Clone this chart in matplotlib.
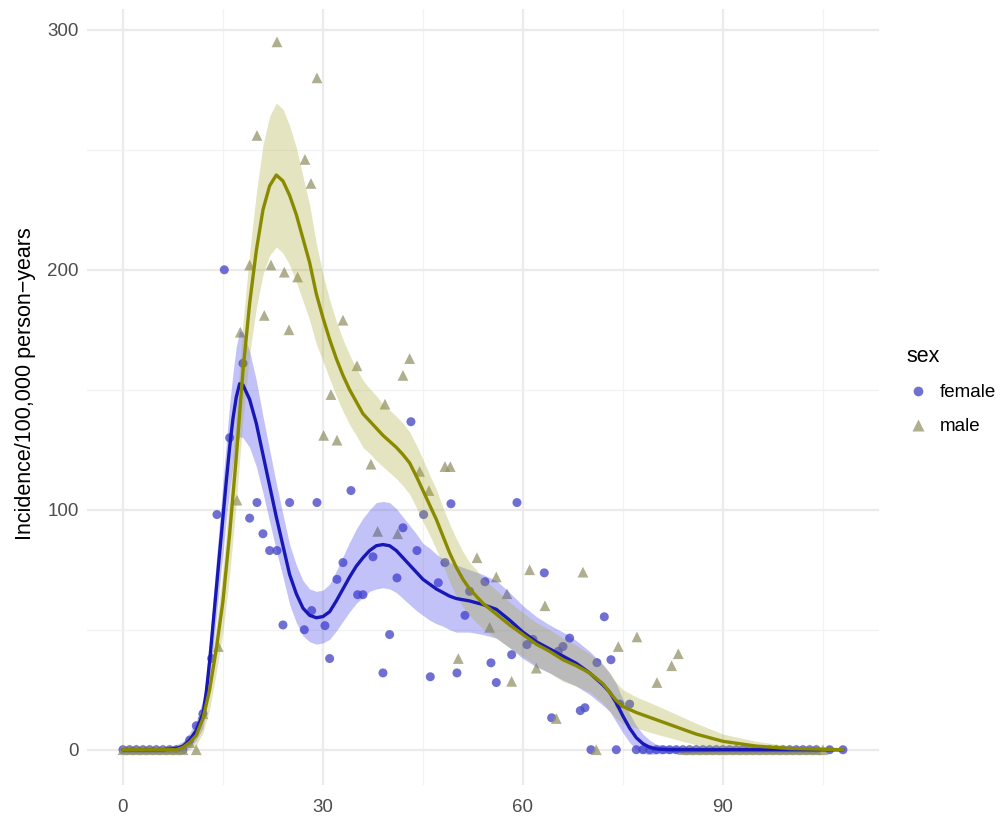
import numpy as np
import matplotlib
matplotlib.use('Agg')
import matplotlib.pyplot as plt
from matplotlib.lines import Line2D

plt.rcParams['font.family'] = ['Liberation Sans', 'DejaVu Sans']

# points (age, incidence)
female_age = [0, 1, 2, 3, 4, 5, 6, 7, 8, 9, 10, 11, 12, 13.3, 14.1, 15.2, 16, 18, 19, 20.1,
              21, 22, 23.1, 24, 25, 27.2, 28.3, 29.1, 30.3, 31, 32.1, 33, 34.2, 35.2, 36,
              37.5, 39, 40, 41.1, 42, 43.2, 44.1, 45.1, 46.1, 47.3, 48.3, 49.2, 50.1, 51.3,
              52, 54.3, 55.2, 56, 58.3, 59.1, 60.6, 61.5, 63.2, 64.3, 65.3, 66, 67, 68.6,
              69.3, 70.2, 71.1, 72.2, 73.2, 74.5, 76,
              74, 77, 78, 79, 80, 81, 82, 83, 84, 85, 86, 87, 88, 89, 90, 91, 92, 93, 94,
              95, 96, 97, 98, 99, 100, 101, 102, 103, 104, 106, 108]
female_inc = [0, 0, 0, 0, 0, 0, 0, 0, 0, 0, 4, 10, 15, 38, 98, 200, 130, 161, 96.5, 103,
              90, 83, 83, 52, 103, 50, 58, 103, 51.7, 38, 71, 78, 108, 64.6, 64.6,
              80.4, 32, 48, 71.6, 92.5, 136.7, 83, 98, 30.4, 69.6, 78, 102.5, 32, 56,
              66, 70, 36.2, 28, 39.6, 103, 43.8, 46, 73.7, 13.3, 41, 43, 46.5, 16.3,
              17.5, 0, 36.3, 55.4, 37.5, 19, 19,
              0, 0, 0, 0, 0, 0, 0, 0, 0, 0, 0, 0, 0, 0, 0, 0, 0, 0, 0,
              0, 0, 0, 0, 0, 0, 0, 0, 0, 0, 0, 0]

male_age = [0, 1, 2, 3, 4, 5, 6, 7, 8, 9, 10, 11, 12, 14.3, 17.1, 17.6, 19, 20.1, 21.2,
            22.2, 23.1, 24.2, 24.9, 26.2, 27.3, 28.2, 29.1, 30.1, 31.2, 32.1, 33, 35.1,
            37.2, 38.2, 39.3, 41.2, 42, 43, 44.5, 45.9, 48.3, 49.1, 50.3, 53.1, 55, 56,
            57.6, 58.3, 61, 62, 63.3, 65, 69, 71, 74.3, 77.1, 80.1, 82.3, 83.3,
            84, 85, 86, 87, 88, 89, 90, 91, 92, 93, 94, 95, 96, 97, 98, 99, 100, 101,
            102, 103, 104, 105]
male_inc = [0, 0, 0, 0, 0, 0, 0, 0, 0, 0, 3, 0, 15, 43, 104, 174, 202, 256, 181,
            202, 295, 199, 175, 197, 246, 236, 280, 131, 148, 129, 179, 160,
            119, 91, 144, 90, 156, 163, 116, 108, 118, 118, 38, 80, 51, 72,
            65, 28.5, 75, 34, 60, 13, 74, 0, 43, 47, 28, 35, 40,
            0, 0, 0, 0, 0, 0, 0, 0, 0, 0, 0, 0, 0, 0, 0, 0, 0, 0,
            0, 0, 0, 0]

# smooth fits (age, fit, half width of band)
f_fit_age = [0, 2, 4, 6, 8, 9, 10, 11, 12, 12.5, 13, 13.5, 14, 14.5, 15, 15.5, 16, 16.5,
             17, 17.5, 18, 19, 20, 21, 22, 23, 24, 25, 26, 27, 28, 29, 30, 31, 32, 33,
             34, 35, 36, 37, 38, 39, 40, 41, 42, 43, 44, 45, 46, 47, 48, 49, 50, 52, 54,
             56, 58, 60, 62, 64, 66, 68, 70, 72, 73, 74, 75, 76, 77, 78, 79, 80, 82, 85,
             90, 95, 100, 105, 108]
f_fit = [0, 0, 0, 0, 0.5, 1.5, 4, 8, 15, 24, 37, 52, 67, 82, 97, 112, 126, 138,
         147, 152.5, 152, 146, 136, 123, 110, 97, 85, 73, 65, 59, 56, 55, 55.5, 57.5, 62, 67,
         72, 76.5, 80, 83, 85, 85.5, 85, 83, 80, 77, 74, 71, 69, 67, 65.5, 64, 63, 62, 60.5,
         58.5, 54, 49, 45, 42, 39, 36, 32, 27, 24, 19.5, 14, 9, 5, 2.5, 1, 0.3, 0, 0,
         0, 0, 0, 0, 0]
f_hw = [1, 1, 1, 1, 1.5, 2, 3, 4, 6, 7, 8, 10, 12, 13, 15, 16, 18, 19,
        21, 22, 22, 20, 18, 16, 15, 14, 13, 12.5, 12, 11.5, 11, 11, 11, 11.5, 12.5, 13.5,
        14.5, 15.5, 16.5, 17, 18, 18, 18, 17.5, 17, 16.5, 16, 15, 15, 14.5, 14, 14, 14, 13, 12.5,
        12, 11.5, 11, 10.5, 10, 10, 9.5, 9, 8.5, 8, 8, 7, 6, 5, 4, 3, 2, 1.5, 1,
        0.5, 0.5, 0.5, 0.5, 0.5]

m_fit_age = [0, 2, 4, 6, 8, 9, 10, 11, 12, 13, 14, 15, 16, 17, 18, 19, 20, 21, 22, 23,
             24, 25, 26, 27, 28, 29, 30, 31, 32, 33, 34, 35, 36, 37, 38, 39, 40, 41, 42,
             43, 44, 45, 46, 47, 48, 49, 50, 51, 52, 53, 54, 56, 58, 60, 62, 64, 66, 68,
             70, 72, 73, 74, 75, 77, 80, 82, 86, 90, 95, 100, 105, 108]
m_fit = [0, 0, 0, 0, 0, 1, 3, 6, 13, 25, 42, 62, 90, 122, 158, 186, 208, 225, 235, 239.5,
         237, 231, 223, 213, 203, 190, 180, 171, 163, 156, 150, 145, 140, 137, 134, 131, 128.5, 126, 123,
         119.5, 114, 108, 102, 96, 89, 82, 76, 71, 67, 64, 61, 56.5, 52, 48, 44, 41, 37.5, 35,
         32, 27.5, 24, 20.5, 18, 15.5, 12.5, 10.5, 6.5, 3.5, 1.5, 0.5, 0.2, 0]
m_hw = [1, 1, 1, 1, 1.5, 2, 3, 4, 6, 8, 10, 13, 17, 19, 20, 21, 24, 27, 29, 30,
        30, 29, 28, 26, 24, 21, 18, 16.5, 15.5, 15, 14.5, 14, 14, 13.5, 13.5, 13, 13, 13, 13,
        13, 13, 13, 12.5, 12.5, 12, 12, 12, 11.5, 11, 11, 10.5, 10, 9.5, 9, 9, 9, 9, 8.5,
        8, 8, 8, 7.5, 7, 6.5, 6, 5.5, 4.5, 3, 2, 1, 0.5, 0.5]

f_line = '#1818b8'
f_pt = '#4c4cc8'
f_band = '#3838e8'
m_line = '#8a8a00'
m_pt = '#94946a'
m_band = '#a8a830'

fig = plt.figure(figsize=(10.02, 8.16), dpi=100)
ax = fig.add_axes([0.0868, 0.038, 0.7904, 0.951])

ax.scatter(female_age, female_inc, s=42, color=f_pt, alpha=0.8, edgecolors='none', zorder=2)
ax.scatter(male_age, male_inc, s=60, marker='^', color=m_pt, alpha=0.75, edgecolors='none', zorder=2)

fa = np.array(f_fit_age)
fy = np.array(f_fit)
fh = np.array(f_hw)
ma = np.array(m_fit_age)
my = np.array(m_fit)
mh = np.array(m_hw)
ax.fill_between(fa, fy - fh, fy + fh, color=f_band, alpha=0.3, linewidth=0, zorder=3)
ax.fill_between(ma, my - mh, my + mh, color=m_band, alpha=0.3, linewidth=0, zorder=3)
ax.plot(fa, fy, color=f_line, lw=2.4, zorder=4, solid_capstyle='round')
ax.plot(ma, my, color=m_line, lw=2.4, zorder=4, solid_capstyle='round')

ax.set_xlim(-5.4, 113.4)
ax.set_ylim(-14.7, 308.7)
ax.set_xticks([0, 30, 60, 90])
ax.set_yticks([0, 100, 200, 300])
ax.set_xticks([15, 45, 75, 105], minor=True)
ax.set_yticks([50, 150, 250], minor=True)
ax.grid(which='major', color='#ebebeb', lw=1.6)
ax.grid(which='minor', color='#f2f2f2', lw=0.9)
ax.set_axisbelow(True)
for s in ax.spines.values():
    s.set_visible(False)
ax.tick_params(which='both', length=0)
ax.tick_params(axis='x', labelsize=13.5, labelcolor='#4d4d4d', pad=10)
ax.tick_params(axis='y', labelsize=13.5, labelcolor='#4d4d4d', pad=6)

fig.text(0.025, 0.53, 'Incidence/100,000 person\u2212years', rotation=90,
         ha='center', va='center', fontsize=15.5, color='black')

handles = [Line2D([], [], marker='o', ls='none', markersize=7, markerfacecolor=f_pt,
                  markeredgecolor='none', alpha=0.8),
           Line2D([], [], marker='^', ls='none', markersize=8, markerfacecolor=m_pt,
                  markeredgecolor='none', alpha=0.75)]
leg = fig.legend(handles, ['female', 'male'], title='sex', loc='upper left',
                 bbox_to_anchor=(0.897, 0.585), frameon=False, fontsize=13.5,
                 title_fontsize=15.5, labelspacing=0.9, handletextpad=0.6,
                 handlelength=1.2, borderaxespad=0)
leg._legend_box.align = 'left'

fig.savefig('out.png', dpi=100)
